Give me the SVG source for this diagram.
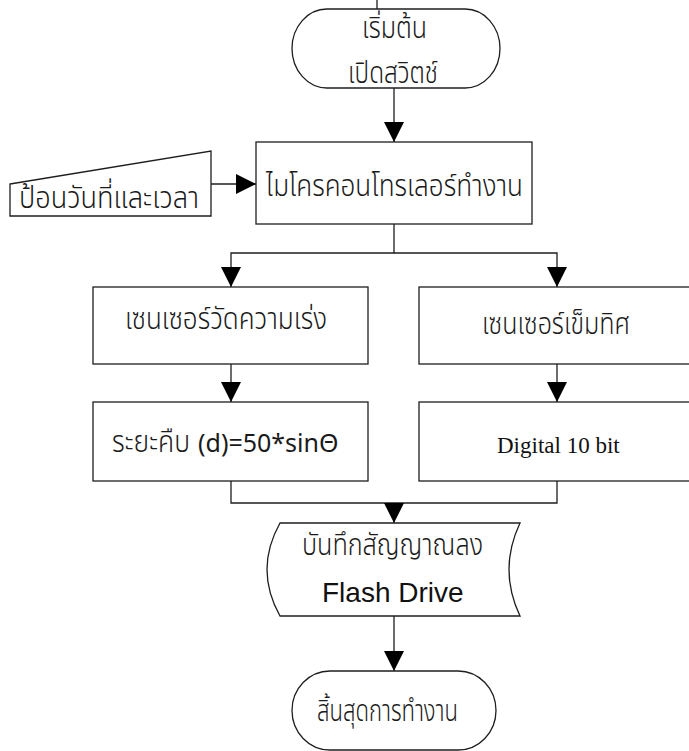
<svg xmlns="http://www.w3.org/2000/svg" width="689" height="751" viewBox="0 0 689 751">
<defs>
<style>
.s{fill:#fff;stroke:#1e1e1e;stroke-width:1.3}
.c{fill:none;stroke:#1e1e1e;stroke-width:1.3}
.t{font-family:"Noto Sans Thai","Noto Sans","DejaVu Sans",sans-serif;font-size:30px;font-weight:300;fill:#1a1a1a}
.l{font-family:"Noto Sans","Open Sans","DejaVu Sans",sans-serif;font-size:25px;font-weight:400;fill:#1a1a1a}
.a{font-family:"Liberation Sans",Arial,sans-serif;font-size:28px;font-weight:400;fill:#111}
.r{font-family:"Liberation Serif","Times New Roman",serif;font-size:23px;font-weight:400;fill:#111}
</style>
<marker id="ah" markerUnits="userSpaceOnUse" markerWidth="20" markerHeight="20" refX="20" refY="10" orient="auto">
<path d="M0,0 L20,10 L0,20 Z" fill="#000"/>
</marker>
</defs>
<g id="connectors">
<line class="c" x1="377" y1="0" x2="377" y2="9"/>
<path class="c" d="M394,88 V142" marker-end="url(#ah)"/>
<path class="c" d="M211,184 H256" marker-end="url(#ah)"/>
<path class="c" d="M394,224 V253 H231 V287" marker-end="url(#ah)"/>
<path class="c" d="M394,253 H557 V287" marker-end="url(#ah)"/>
<path class="c" d="M231,364 V402" marker-end="url(#ah)"/>
<path class="c" d="M557,364 V402" marker-end="url(#ah)"/>
<path class="c" d="M231,481 V503 H557 V481"/>
<path class="c" d="M394,503 V523" marker-end="url(#ah)"/>
<path class="c" d="M394,616 V671" marker-end="url(#ah)"/>
</g>
<g id="start">
<path class="s" d="M327,9 H465 A35,39.5 0 0 1 465,88 H327 A35,39.5 0 0 1 327,9 Z"/>
<text class="t" x="362" y="38" textLength="65" lengthAdjust="spacingAndGlyphs">เริ่มต้น</text>
<text class="t" x="348" y="83" textLength="90" lengthAdjust="spacingAndGlyphs">เปิดสวิตช์</text>
</g>
<g id="input">
<path class="s" d="M10,184 L211,151 V216 H10 Z"/>
<text class="t" x="19" y="208" textLength="180" lengthAdjust="spacingAndGlyphs">ป้อนวันที่และเวลา</text>
</g>
<g id="micro">
<rect class="s" x="256" y="142" width="276" height="82"/>
<text class="t" x="266" y="196" textLength="257" lengthAdjust="spacingAndGlyphs">ไมโครคอนโทรเลอร์ทำงาน</text>
</g>
<g id="accel">
<rect class="s" x="93" y="287" width="275" height="77"/>
<text class="t" x="125" y="329" textLength="202" lengthAdjust="spacingAndGlyphs">เซนเซอร์วัดความเร่ง</text>
</g>
<g id="compass">
<rect class="s" x="419" y="287" width="276" height="77"/>
<text class="t" x="482" y="334" textLength="148" lengthAdjust="spacingAndGlyphs">เซนเซอร์เข็มทิศ</text>
</g>
<g id="distance">
<rect class="s" x="93" y="402" width="275" height="79"/>
<text class="t" x="112" y="452" textLength="78" lengthAdjust="spacingAndGlyphs">ระยะคืบ</text>
<text class="l" x="198" y="452">(d)=50*sinΘ</text>
</g>
<g id="digital">
<rect class="s" x="419" y="402" width="276" height="79"/>
<text class="r" x="497" y="453">Digital 10 bit</text>
</g>
<g id="store">
<path class="s" d="M280,523 H520 Q498,569.5 520,616 H280 Q254,569.5 280,523 Z"/>
<text class="t" x="302" y="555" textLength="181" lengthAdjust="spacingAndGlyphs">บันทึกสัญญาณลง</text>
<text class="a" x="322" y="602">Flash Drive</text>
</g>
<g id="end">
<path class="s" d="M330,671 H458 A38,39.5 0 0 1 458,750 H330 A38,39.5 0 0 1 330,671 Z"/>
<text class="t" x="317" y="721" textLength="141" lengthAdjust="spacingAndGlyphs">สิ้นสุดการทำงาน</text>
</g>
</svg>
